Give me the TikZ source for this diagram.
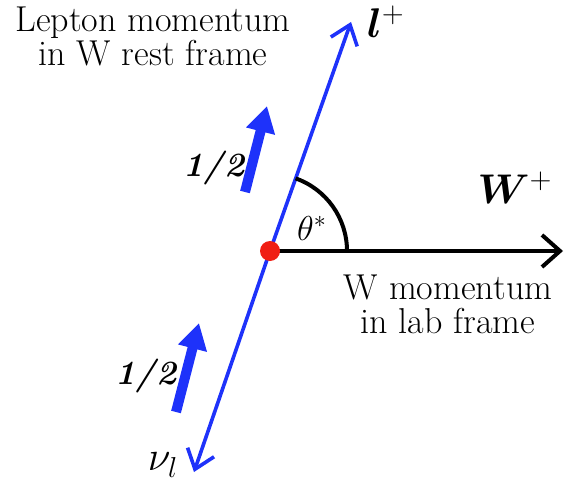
\documentclass[tikz,border=0pt]{standalone}
\usetikzlibrary{arrows.meta}
\usepackage{amsmath,bm}
\definecolor{vblue}{RGB}{30,50,250}
\definecolor{dotred}{RGB}{240,30,20}
\begin{document}
\begin{tikzpicture}[x=0.5pt,y=-0.5pt,
  lbl/.style={font=\fontsize{18}{17}\selectfont, align=center, inner sep=0pt},
  mlab/.style={font=\fontsize{22}{22}\selectfont, inner sep=0pt},
  half/.style={font=\fontsize{17}{17}\selectfont\bfseries\itshape, inner sep=0pt},
  spinarrow/.style={vblue, line width=5pt, -{Triangle[length=13pt,width=14pt]}},
  momline/.style={vblue, line width=1.8pt, -{Straight Barb[length=9pt,width=14pt,line width=1.8pt]}},
  warrow/.style={black, line width=2pt, -{Straight Barb[length=9pt,width=16pt,line width=2pt]}}]
\useasboundingbox (0,0) rectangle (565,496);
\coordinate (O) at (270,251);
\coordinate (Ltip) at (351,22);
\coordinate (Ntip) at (194,472);
\coordinate (Wtip) at (563,251);
\coordinate (s1a) at (245,192);
\coordinate (s1b) at (267,106);
\coordinate (s2a) at (176,412);
\coordinate (s2b) at (199,323);
\draw[momline] (O) -- (Ltip);
\draw[momline] (O) -- (Ntip);
\draw[warrow] (O) -- (Wtip);
\draw[black, line width=2pt] (O) ++(0:77) arc[start angle=0, end angle=-70.6, radius=77];
\fill[dotred] (O) circle[radius=10];
\draw[spinarrow] (s1a) -- (s1b);
\draw[spinarrow] (s2a) -- (s2b);
\node[lbl] (lep) at (153,36) {Lepton momentum\\in W rest frame};
\node[lbl] (wmom) at (448,304) {W momentum\\in lab frame};
\node[mlab] (lp) at (386,22) {$\bm{l}^{+}$};
\node[mlab] (wp) at (515,188) {$\bm{W}^{+}$};
\node[mlab] (nu) at (163,465) {$\nu_{l}$};
\node[font=\fontsize{18}{18}\selectfont, inner sep=0pt] (th) at (312,228) {$\theta^{*}$};
\node[half] (h1) at (214,168) {1/2};
\node[half] (h2) at (146,376) {1/2};
\end{tikzpicture}
\end{document}
